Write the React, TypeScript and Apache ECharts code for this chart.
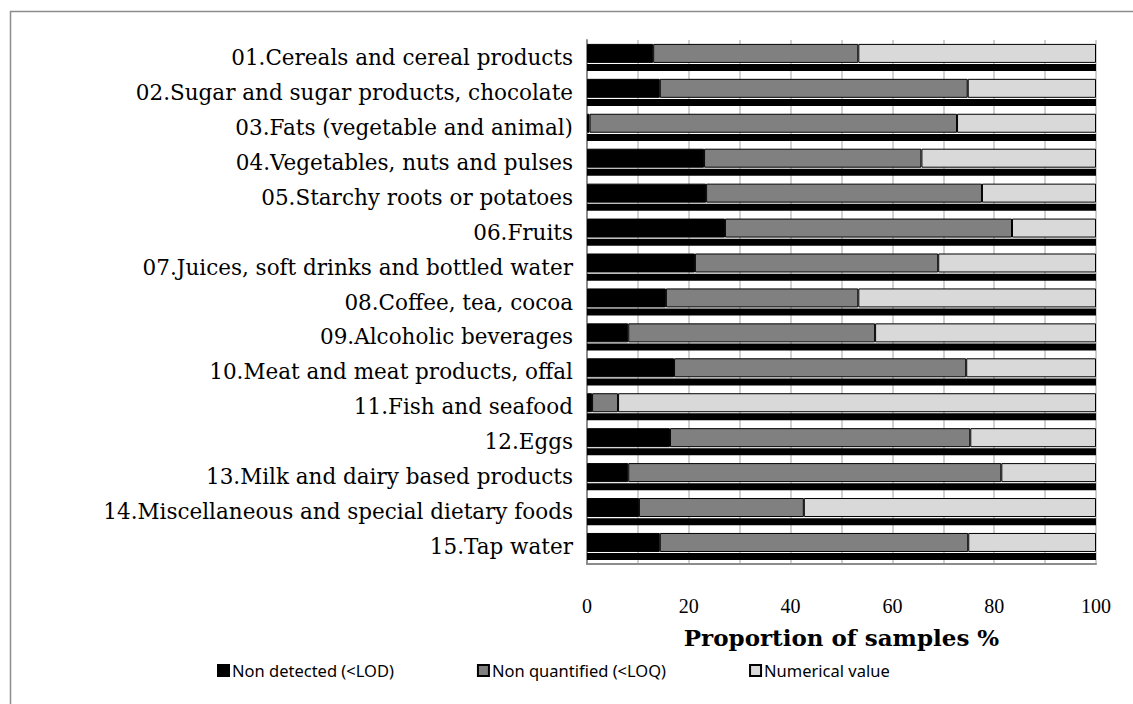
import React, { useEffect, useRef } from "react";
import * as echarts from "echarts";

const categories = [
  "01.Cereals and cereal products",
  "02.Sugar and sugar products, chocolate",
  "03.Fats (vegetable and animal)",
  "04.Vegetables, nuts and pulses",
  "05.Starchy roots or potatoes",
  "06.Fruits",
  "07.Juices, soft drinks and bottled water",
  "08.Coffee, tea, cocoa",
  "09.Alcoholic beverages",
  "10.Meat and meat products, offal",
  "11.Fish and seafood",
  "12.Eggs",
  "13.Milk and dairy based products",
  "14.Miscellaneous and special dietary foods",
  "15.Tap water",
];

const nonDetected = [13, 14.3, 0.5, 23, 23.4, 27.1, 21.2, 15.5, 8.1, 17.1, 1, 16.3, 8.1, 10.2, 14.3];
const nonQuantified = [40.3, 60.5, 72.2, 42.7, 54.2, 56.4, 47.8, 37.8, 48.5, 57.4, 5.1, 59, 73.3, 32.4, 60.6];
const numericalValue = [46.7, 25.2, 27.3, 34.3, 22.4, 16.5, 31, 46.7, 43.4, 25.5, 93.9, 24.7, 18.6, 57.4, 25.1];
const baseStrip = [100, 100, 100, 100, 100, 100, 100, 100, 100, 100, 100, 100, 100, 100, 100];

const seriesNames = ["Non detected (<LOD)", "Non quantified (<LOQ)", "Numerical value"];
const xTicks = [0, 20, 40, 60, 80, 100];

export default function App() {
  const ref = useRef<HTMLDivElement>(null);
  useEffect(() => {
    if (!ref.current) return;
    const chart = echarts.init(ref.current, null, { renderer: "svg" });
    const serif = "Liberation Serif";
    const barStyle = (color: string) => ({ color, borderColor: "#000", borderWidth: 1 });
    chart.setOption({
      animation: false,
      backgroundColor: "#fff",
      graphic: [
        {
          type: "rect",
          shape: { x: 10.5, y: 11.5, width: 1300, height: 900 },
          style: { fill: "none", stroke: "#8c8c8c", lineWidth: 1.5 },
          z: 100,
        },
      ],
      grid: { left: 587, right: 37, top: 40, bottom: 140 },
      legend: {
        data: seriesNames,
        left: 212,
        top: 657,
        itemWidth: 11,
        itemHeight: 11,
        itemGap: 83,
        icon: "rect",
        textStyle: { fontFamily: "Noto Sans", fontSize: 16.5, color: "#000", padding: [0, 0, 0, -2] },
      },
      xAxis: {
        type: "value",
        min: 0,
        max: 100,
        interval: 10,
        name: "Proportion of samples %",
        nameLocation: "middle",
        nameGap: 62,
        nameTextStyle: { fontFamily: "DejaVu Serif", fontSize: 23, fontWeight: "bold", color: "#000" },
        axisLine: { show: true, lineStyle: { color: "#8c8c8c", width: 2 } },
        axisTick: { show: false },
        axisLabel: {
          fontFamily: serif,
          fontSize: 20,
          color: "#000",
          margin: 32,
          formatter: (v: number) => (xTicks.indexOf(v) >= 0 ? String(v) : ""),
        },
        splitLine: { show: true, lineStyle: { color: "#c0c0c0", width: 1.5 } },
      },
      yAxis: {
        type: "category",
        data: categories,
        inverse: true,
        axisLine: { show: true, lineStyle: { color: "#8c8c8c", width: 2 } },
        axisTick: { show: false },
        axisLabel: { fontFamily: "DejaVu Serif", fontSize: 21.5, color: "#000", margin: 14 },
      },
      series: [
        { name: seriesNames[0], type: "bar", stack: "a", barWidth: 19, barGap: "6%", data: nonDetected, itemStyle: barStyle("#000000") },
        { name: seriesNames[1], type: "bar", stack: "a", barWidth: 19, barGap: "6%", data: nonQuantified, itemStyle: barStyle("#808080") },
        { name: seriesNames[2], type: "bar", stack: "a", barWidth: 19, barGap: "6%", data: numericalValue, itemStyle: barStyle("#d9d9d9") },
        { name: "base", type: "bar", stack: "b", barWidth: 7, barGap: "6%", data: baseStrip, itemStyle: { color: "#000" }, silent: true },
      ],
    });
    return () => chart.dispose();
  }, []);
  return <div ref={ref} style={{ position: "absolute", left: 0, top: 0, width: 1133, height: 704 }} />;
}
